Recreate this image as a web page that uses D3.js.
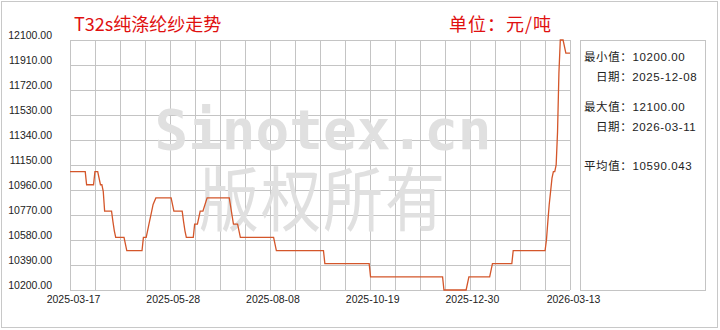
<!DOCTYPE html>
<html>
<head>
<meta charset="utf-8">
<script src="https://cdn.jsdelivr.net/npm/d3@7"></script>
<style>
  body { margin: 0; background: #fff; }
  svg { display: block; }
</style>
</head>
<body>
<div class="chart"></div>
<script>
// data
const dates = [
  "2025-03-17","2025-03-28","2025-03-29","2025-04-03","2025-04-04","2025-04-06","2025-04-08","2025-04-09",
  "2025-04-10","2025-04-11","2025-04-16","2025-04-17","2025-04-18","2025-04-19","2025-04-25","2025-04-27",
  "2025-05-08","2025-05-09","2025-05-11","2025-05-12","2025-05-13","2025-05-14","2025-05-15","2025-05-16",
  "2025-05-18","2025-05-29","2025-05-31","2025-06-06","2025-06-07","2025-06-08","2025-06-09","2025-06-14",
  "2025-06-15","2025-06-17","2025-06-19","2025-06-21","2025-06-24","2025-07-10","2025-07-13","2025-07-16",
  "2025-07-18","2025-08-11","2025-08-13","2025-09-16","2025-09-17","2025-10-19","2025-10-20","2025-12-11",
  "2025-12-12","2025-12-28","2025-12-30","2026-01-14","2026-01-16","2026-01-30","2026-01-31","2026-02-23",
  "2026-02-24","2026-02-25","2026-02-26","2026-02-27","2026-02-28","2026-03-01","2026-03-02","2026-03-03",
  "2026-03-04","2026-03-05","2026-03-06","2026-03-08","2026-03-10","2026-03-13"
]
const prices = [
  11100,11100,11000,11000,11100,11100,11000,11000,
  10950,10800,10800,10720,10650,10600,10600,10500,
  10500,10600,10600,10650,10700,10750,10800,10850,
  10900,10900,10800,10800,10720,10650,10600,10600,
  10700,10700,10800,10800,10900,10900,10700,10700,
  10600,10600,10500,10500,10400,10400,10300,10300,
  10200,10200,10300,10300,10400,10400,10500,10500,
  10580,10720,10850,10950,11050,11100,11100,11150,
  11400,11850,12100,12100,12000,12000
]
const yTicks = [10200, 10390, 10580, 10770, 10960, 11150, 11340, 11530, 11720, 11910, 12100]
const xTickDates = ["2025-03-17", "2025-05-28", "2025-08-08", "2025-10-19", "2025-12-30", "2026-03-13"]

const title = "T32s纯涤纶纱走势"
const unit = "单位：元/吨"
const minValue = "10200.00"
const minDate = "2025-12-08"
const maxValue = "12100.00"
const maxDate = "2026-03-11"
const avgValue = "10590.043"

const width = 720
const height = 330
const plotLeft = 70, plotRight = 570, plotTop = 40, plotBottom = 290
const gridColor = "#c4c4c4"
const red = "#e01010"

const parse = d3.timeParse("%Y-%m-%d")
const points = dates.map(function(d, i) { return { date: parse(d), value: prices[i] } })

const x = d3.scaleTime()
  .domain([parse(xTickDates[0]), parse(xTickDates[xTickDates.length - 1])])
  .range([plotLeft, plotRight])

const y = d3.scaleLinear()
  .domain([yTicks[0], yTicks[yTicks.length - 1]])
  .range([plotBottom, plotTop])

const svg = d3.select(".chart").append("svg")
  .attr("width", width)
  .attr("height", height)

// outer frame
svg.append("rect")
  .attr("x", 1.5).attr("y", 1.5)
  .attr("width", width - 4).attr("height", height - 4)
  .attr("fill", "none")
  .attr("stroke", "#c8c8c8")

// grid
const t0 = x.domain()[0].getTime(), t1 = x.domain()[1].getTime()
const vLines = d3.range(21).map(function(i) { return new Date(t0 + i * (t1 - t0) / 20) })

svg.append("g").selectAll("line")
  .data(vLines)
  .enter().append("line")
  .attr("x1", function(d) { return Math.round(x(d)) + 0.5 })
  .attr("x2", function(d) { return Math.round(x(d)) + 0.5 })
  .attr("y1", plotTop)
  .attr("y2", plotBottom)
  .attr("stroke", gridColor)

svg.append("g").selectAll("line")
  .data(yTicks)
  .enter().append("line")
  .attr("x1", plotLeft)
  .attr("x2", plotRight)
  .attr("y1", function(d) { return Math.round(y(d)) + 0.5 })
  .attr("y2", function(d) { return Math.round(y(d)) + 0.5 })
  .attr("stroke", gridColor)

// watermark
svg.append("text")
  .attr("x", 323).attr("y", 149)
  .attr("text-anchor", "middle")
  .style("font-family", "DejaVu Sans Mono")
  .style("font-weight", "bold")
  .style("font-size", "56px")
  .attr("fill", "#e0e0e0")
  .text("Sinotex.cn")

svg.append("text")
  .attr("transform", "translate(323,226) scale(1,1.18)")
  .attr("text-anchor", "middle")
  .style("font-family", "Noto Sans CJK SC")
  .style("font-size", "60px")
  .style("letter-spacing", "2px")
  .attr("fill", "#e0e0e0")
  .text("版权所有")

// price line
const line = d3.line()
  .x(function(d) { return x(d.date) })
  .y(function(d) { return y(d.value) })

svg.append("path")
  .datum(points)
  .attr("d", line)
  .attr("fill", "none")
  .attr("stroke", "#d4562a")
  .attr("stroke-width", 1.3)

// axis labels
svg.append("g").selectAll("text")
  .data(yTicks)
  .enter().append("text")
  .attr("x", 52)
  .attr("y", function(d) { return y(d) - 1 })
  .attr("text-anchor", "end")
  .style("font-family", "Liberation Sans")
  .style("font-size", "10.5px")
  .attr("fill", "#222")
  .text(function(d) { return d3.format(".2f")(d) })

svg.append("g").selectAll("text")
  .data(xTickDates)
  .enter().append("text")
  .attr("x", function(d) { return x(parse(d)) + 3.5 })
  .attr("y", 303)
  .attr("text-anchor", "middle")
  .style("font-family", "Liberation Sans")
  .style("font-size", "10.5px")
  .attr("fill", "#222")
  .text(function(d) { return d })

// titles
svg.append("text")
  .attr("x", 74).attr("y", 31)
  .style("font-family", "Noto Sans CJK SC")
  .style("font-size", "18px")
  .attr("fill", red)
  .text(title)

svg.append("text")
  .attr("x", 449).attr("y", 31)
  .style("font-family", "Noto Sans CJK SC")
  .style("font-size", "18px")
  .style("letter-spacing", "1px")
  .attr("fill", red)
  .text(unit)

// stats box
svg.append("rect")
  .attr("x", 580.5).attr("y", 40.5)
  .attr("width", 125).attr("height", 250)
  .attr("fill", "none")
  .attr("stroke", gridColor)

const stats = [
  { x: 584, y: 60.5, t: "最小值：" + minValue },
  { x: 596, y: 80.5, t: "日期：" + minDate },
  { x: 584, y: 110.5, t: "最大值：" + maxValue },
  { x: 596, y: 130.5, t: "日期：" + maxDate },
  { x: 584, y: 169.5, t: "平均值：" + avgValue }
]

svg.append("g").selectAll("text")
  .data(stats)
  .enter().append("text")
  .attr("x", function(d) { return d.x })
  .attr("y", function(d) { return d.y })
  .style("font-family", "Liberation Sans, Noto Sans CJK SC")
  .style("font-size", "11.5px")
  .style("letter-spacing", "0.6px")
  .attr("fill", "#222")
  .text(function(d) { return d.t })
</script>
</body>
</html>
